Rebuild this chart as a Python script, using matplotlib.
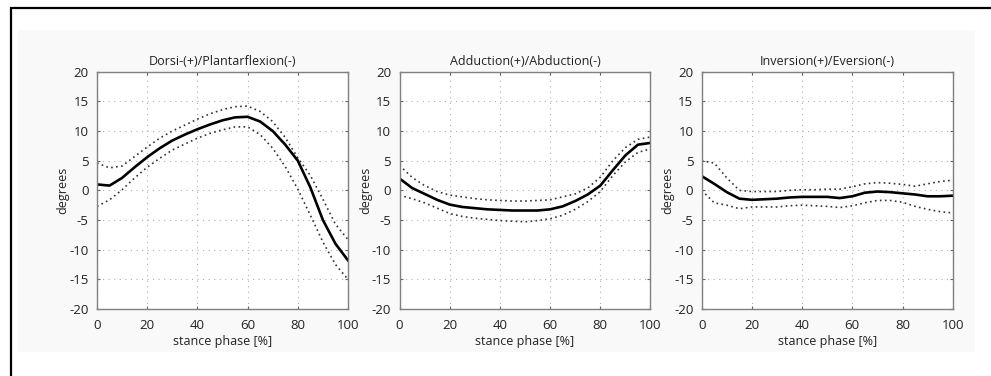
import numpy as np
import matplotlib.pyplot as plt
from matplotlib.patches import Rectangle

plt.rcParams['font.family'] = ['Open Sans', 'DejaVu Sans']
plt.rcParams['axes.unicode_minus'] = False

stance = [0, 5, 10, 15, 20, 25, 30, 35, 40, 45, 50, 55, 60, 65, 70, 75, 80, 85, 90, 95, 100]

titles = ['Dorsi-(+)/Plantarflexion(-)', 'Adduction(+)/Abduction(-)', 'Inversion(+)/Eversion(-)']

# dorsi/plantarflexion
dorsi_mean = [1.0, 0.8, 2.1, 3.9, 5.6, 7.1, 8.4, 9.4, 10.3, 11.1, 11.8, 12.3, 12.4, 11.6, 10.0, 7.7, 5.0, 0.5, -5.0, -9.0, -11.8]
dorsi_upper = [4.6, 3.8, 4.1, 5.7, 7.3, 8.8, 10.0, 11.0, 12.0, 12.9, 13.6, 14.1, 14.2, 13.3, 11.6, 8.9, 5.5, 2.5, -1.5, -5.7, -8.3]
dorsi_lower = [-2.7, -1.6, 0.1, 2.1, 3.9, 5.4, 6.8, 7.8, 8.8, 9.6, 10.2, 10.7, 10.7, 9.4, 7.1, 4.0, 0.2, -4.2, -8.7, -12.5, -15.0]

# adduction/abduction
add_mean = [2.0, 0.4, -0.6, -1.6, -2.4, -2.8, -3.0, -3.2, -3.3, -3.4, -3.4, -3.4, -3.2, -2.7, -1.8, -0.7, 0.8, 3.4, 5.9, 7.7, 8.0]
add_upper = [4.2, 2.2, 0.8, -0.2, -0.8, -1.1, -1.4, -1.6, -1.7, -1.8, -1.8, -1.7, -1.6, -1.1, -0.6, 0.4, 2.2, 5.0, 7.2, 8.6, 9.0]
add_lower = [-0.8, -1.4, -2.1, -3.0, -3.9, -4.4, -4.7, -4.9, -5.1, -5.2, -5.3, -5.1, -4.8, -4.2, -3.2, -1.9, -0.2, 2.5, 4.8, 6.4, 7.0]

# inversion/eversion
inv_mean = [2.4, 1.1, -0.3, -1.4, -1.6, -1.5, -1.4, -1.2, -1.1, -1.1, -1.1, -1.3, -1.0, -0.4, -0.2, -0.3, -0.5, -0.7, -1.0, -1.0, -0.9]
inv_upper = [5.0, 4.6, 2.1, 0.0, -0.2, -0.2, -0.2, 0.0, 0.1, 0.1, 0.2, 0.2, 0.6, 1.1, 1.3, 1.2, 1.0, 0.7, 1.1, 1.5, 1.7]
inv_lower = [0.0, -2.1, -2.5, -3.1, -2.8, -2.8, -2.8, -2.6, -2.5, -2.6, -2.7, -2.9, -2.6, -2.1, -1.7, -1.7, -2.0, -2.7, -3.2, -3.6, -3.8]

series = [(dorsi_mean, dorsi_upper, dorsi_lower),
          (add_mean, add_upper, add_lower),
          (inv_mean, inv_upper, inv_lower)]

W, H = 991, 376
fig = plt.figure(figsize=(W / 100, H / 100), dpi=100)

# faint grey panel and outer frame
fig.add_artist(Rectangle((18 / W, 1 - 352 / H), (975 - 18) / W, (352 - 30) / H,
                         transform=fig.transFigure, facecolor='#f9f9f9', edgecolor='none', zorder=0))
fig.add_artist(Rectangle((11 / W, -0.5), 2, 1.5 - 8 / H,
                         transform=fig.transFigure, facecolor='none', edgecolor='black', lw=1.6, zorder=1))

lefts = [97, 399.5, 701.7]
for i, left in enumerate(lefts):
    ax = fig.add_axes([left / W, 1 - 309 / H, 251 / W, 237.3 / H])
    ax.set_facecolor('white')
    m, up, lo = series[i]
    ax.plot(stance, up, color='#333333', lw=1.2, linestyle=(0, (1, 2)))
    ax.plot(stance, lo, color='#333333', lw=1.2, linestyle=(0, (1, 2)))
    ax.plot(stance, m, color='black', lw=1.9)
    ax.set_xlim(0, 100)
    ax.set_ylim(-20, 20)
    ax.set_xticks([0, 20, 40, 60, 80, 100])
    ax.set_yticks(np.arange(-20, 21, 5))
    ax.grid(True, color='#b0b0b0', linestyle=(0, (1, 4)), lw=0.8)
    for s in ax.spines.values():
        s.set_color('#808080')
        s.set_linewidth(1.0)
    ax.tick_params(direction='in', top=True, right=True, length=2.5, width=0.8,
                   color='#666666', labelsize=9.5, labelcolor='#222222')
    ax.tick_params(axis='x', pad=7)
    ax.tick_params(axis='y', pad=6)
    ax.set_title(titles[i], fontsize=9, color='#222222', pad=5)
    ax.set_xlabel('stance phase [%]', fontsize=9, color='#222222', labelpad=2)
    ax.set_ylabel('degrees', fontsize=9, color='#222222', labelpad=0)

fig.savefig('out.png', dpi=100)
